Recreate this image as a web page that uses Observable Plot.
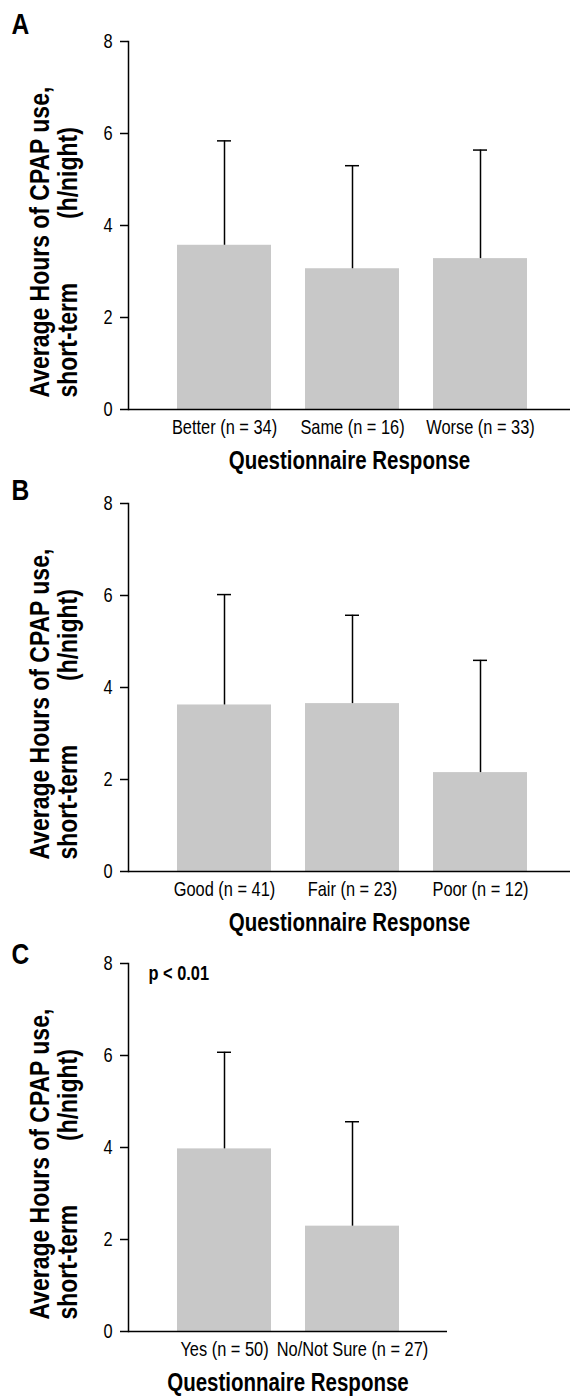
<!DOCTYPE html>
<html>
<head>
<meta charset="utf-8">
<script src="https://cdn.jsdelivr.net/npm/d3@7"></script>
<script src="https://cdn.jsdelivr.net/npm/@observablehq/plot@0.6"></script>
<style>
  html, body { margin: 0; padding: 0; background: #fff; }
  #chart svg { display: block; }
</style>
</head>
<body>
<div id="chart"></div>
<script>
// ---- Data ----
const yTicks = [0, 2, 4, 6, 8];

const catsA = ["Better (n = 34)", "Same (n = 16)", "Worse (n = 33)"];
const meanA = [3.57, 3.06, 3.28];
const sdA   = [2.27, 2.24, 2.36];

const catsB = ["Good (n = 41)", "Fair (n = 23)", "Poor (n = 12)"];
const meanB = [3.62, 3.65, 2.15];
const sdB   = [2.40, 1.92, 2.44];

const catsC = ["Yes (n = 50)", "No/Not Sure (n = 27)"];
const meanC = [3.97, 2.29];
const sdC   = [2.10, 2.27];

const panelLetters = ["A", "B", "C"];
const pValueC = "p < 0.01";
const yLabel = "Average Hours of CPAP use,\nshort-term" + "\u00a0".repeat(10) + "(h/night)";
const xTitle = "Questionnaire Response";

// ---- Drawing ----
const FONT = "'Liberation Sans', Arial, sans-serif";
const NARROW = 0.82; // horizontal compression to mimic a narrow typeface
const BAR = "#c8c8c8";

function condense(svg) {
  svg.querySelectorAll("text").forEach(t => {
    const tr = t.getAttribute("transform") || "";
    const x = t.getAttribute("x");
    if (x != null && x !== "" && !isNaN(+x) && +x !== 0) {
      t.setAttribute("x", 0);
      t.setAttribute("transform", `${tr} translate(${x},0) scale(${NARROW},1)`);
    } else {
      t.setAttribute("transform", `${tr} scale(${NARROW},1)`);
    }
  });
  return svg;
}

function panel({letter, cats, means, sds, width, marginTop, marginBottom, letterDy, pText}) {
  const data = cats.map((c, i) => ({cat: c, mean: means[i], sd: sds[i], top: means[i] + sds[i]}));
  const marginLeft = 128;
  const step = 128;
  const x0 = marginLeft + 32.5;
  const svg = Plot.plot({
    width,
    height: marginTop + 368 + marginBottom,
    marginTop, marginBottom, marginLeft, marginRight: 1,
    style: {fontFamily: FONT, fontSize: "20px", color: "#000", background: "#fff", overflow: "visible"},
    x: {domain: cats, range: [x0, x0 + step * cats.length], paddingInner: 0.2656, paddingOuter: 0.1328, label: null},
    y: {domain: [0, 8], label: null},
    marks: [
      Plot.barY(data, {x: "cat", y: "mean", fill: BAR}),
      Plot.ruleX(data, {x: "cat", y1: "mean", y2: "top", stroke: "#000", strokeWidth: 1.5}),
      Plot.tickY(data, {x: "cat", y: "top", stroke: "#000", strokeWidth: 1.5, insetLeft: 40, insetRight: 40}),
      Plot.axisY({ticks: yTicks, tickSize: 8, tickPadding: 8, tickFormat: d => String(d), fontSize: 20, strokeWidth: 1.5, label: null}),
      Plot.axisX({tickSize: 0, tickPadding: 10, fontSize: 20, label: null}),
      Plot.ruleY([0], {stroke: "#000", strokeWidth: 1.5}),
      Plot.frame({anchor: "left", stroke: "#000", strokeWidth: 1.5}),
      Plot.text([yLabel], {frameAnchor: "bottom-left", dx: -74, dy: -12, rotate: -90, textAnchor: "start", lineAnchor: "middle", lineHeight: 1.0, fontSize: 28, fontWeight: "bold"}),
      Plot.text([xTitle], {frameAnchor: "bottom", dy: 51, textAnchor: "middle", lineAnchor: "middle", fontSize: 25, fontWeight: "bold"}),
      Plot.text([letter], {frameAnchor: "top-left", dx: -108, dy: letterDy, textAnchor: "middle", lineAnchor: "middle", fontSize: 30, fontWeight: "bold"}),
      ...(pText ? [Plot.text([pText], {frameAnchor: "top-left", dx: 20, dy: 10, textAnchor: "start", lineAnchor: "middle", fontSize: 20, fontWeight: "bold"})] : [])
    ]
  });
  return condense(svg);
}

const root = document.getElementById("chart");
root.append(panel({letter: panelLetters[0], cats: catsA, means: meanA, sds: sdA, width: 571, marginTop: 41, marginBottom: 69, letterDy: -17}));
root.append(panel({letter: panelLetters[1], cats: catsB, means: meanB, sds: sdB, width: 571, marginTop: 25, marginBottom: 69, letterDy: -13}));
root.append(panel({letter: panelLetters[2], cats: catsC, means: meanC, sds: sdC, width: 448, marginTop: 23, marginBottom: 65, letterDy: -9, pText: pValueC}));
</script>
</body>
</html>
